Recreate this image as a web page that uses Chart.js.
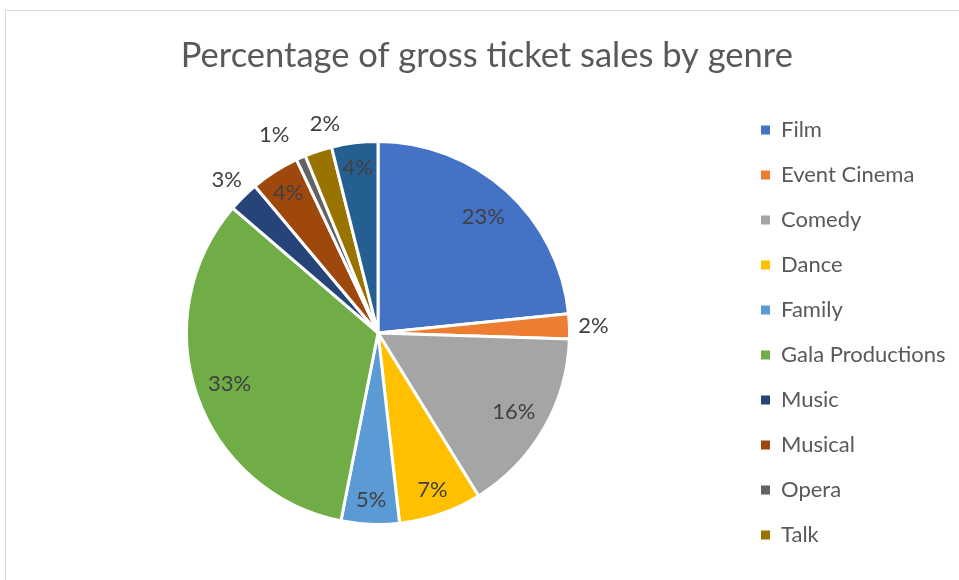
<!DOCTYPE html>
<html>
<head>
<meta charset="utf-8">
<title>Percentage of gross ticket sales by genre</title>
<script src="https://cdn.jsdelivr.net/npm/chart.js@4.4.1/dist/chart.umd.min.js"></script>
<style>
    html, body { margin: 0; padding: 0; background: #fff; }
    body { width: 959px; height: 580px; overflow: hidden; position: relative; }
    #frame { position: absolute; left: 5px; top: 10px; width: 1000px; height: 1000px; border: 1px solid #d9d9d9; }
    #wrap { position: absolute; left: 0; top: 0; width: 959px; height: 580px; }
</style>
</head>
<body>
<div id="frame"></div>
<div id="wrap"><canvas id="chart"></canvas></div>
<script>
// Genres in pie order (clockwise from 12 o'clock)
const genres = ['Film', 'Event Cinema', 'Comedy', 'Dance', 'Family', 'Gala Productions',
                'Music', 'Musical', 'Opera', 'Talk', 'Theatre'];
// Share of gross ticket sales, %
const shares = [23.4, 2.1, 15.7, 7.0, 4.9, 33.2, 2.6, 4.1, 0.8, 2.3, 3.9];
// Office theme palette
const colors = ['#4472C4', '#ED7D31', '#A5A5A5', '#FFC000', '#5B9BD5', '#70AD47',
                '#264478', '#9E480E', '#636363', '#997300', '#255E91'];
// The legend box only had room for the first ten entries
const legendCount = 10;

const FONT = 'Lato';
const LEGEND_SIZE = 22;
const LEGEND_PAD = 23;

// Place the legend so its boxes line up at x≈761, pie centred at x≈378
const mctx = document.createElement('canvas').getContext('2d');
mctx.font = `${LEGEND_SIZE}px ${FONT}`;
const widest = Math.max(...genres.slice(0, legendCount).map(g => mctx.measureText(g).width));
const legendLeft = 738;
// chart.js: padding + box + font/2 + text, plus 10 extra for vertical legends
const legendWidth = LEGEND_PAD + 9 + LEGEND_SIZE / 2 + widest + 10;
const padRight = Math.max(0, 959 - legendLeft - legendWidth);
const padLeft = 2 * 378 - legendLeft;

// Percentage labels: inside for big slices, outside for the thin ones
const sliceLabels = {
    id: 'sliceLabels',
    afterDatasetsDraw(chart) {
        const { ctx } = chart;
        const meta = chart.getDatasetMeta(0);
        ctx.save();
        ctx.font = `22px ${FONT}`;
        ctx.fillStyle = '#404040';
        ctx.textAlign = 'center';
        ctx.textBaseline = 'middle';

        const items = meta.data.map((arc, i) => {
            const v = shares[i];
            const p = arc.getProps(['x', 'y', 'startAngle', 'endAngle', 'outerRadius'], true);
            const outside = v < 3.5;
            return {
                text: Math.round(v) + '%',
                x: p.x, y: p.y,
                angle: (p.startAngle + p.endAngle) / 2,
                r: outside ? p.outerRadius + 24 : p.outerRadius * (v >= 15 ? 0.82 : 0.87),
                outside
            };
        });

        // push neighbouring outside labels apart so they don't collide
        const outs = items.filter(it => it.outside);
        for (let k = 1; k < outs.length; k++) {
            const a = outs[k - 1], b = outs[k];
            const need = (ctx.measureText(a.text).width / 2 + ctx.measureText(b.text).width / 2 + 20) / a.r;
            const gap = b.angle - a.angle;
            if (gap > 0 && gap < need) {
                a.angle -= (need - gap) / 2;
                b.angle += (need - gap) / 2;
                a.r += 8;   // the tiny one sits a bit further out
            }
        }

        items.forEach(it => {
            ctx.fillText(it.text, it.x + Math.cos(it.angle) * it.r, it.y + Math.sin(it.angle) * it.r);
        });
        ctx.restore();
    }
};

new Chart(document.getElementById('chart'), {
    type: 'pie',
    data: {
        labels: genres,
        datasets: [{
            data: shares,
            backgroundColor: colors,
            borderColor: '#ffffff',
            borderWidth: 3,
            radius: 191.5,
            hoverOffset: 0
        }]
    },
    plugins: [sliceLabels],
    options: {
        responsive: true,
        maintainAspectRatio: false,
        animation: false,
        events: [],
        layout: { padding: { top: 0, left: padLeft, right: padRight, bottom: 5 } },
        plugins: {
            tooltip: { enabled: false },
            title: {
                display: true,
                text: 'Percentage of gross ticket sales by genre',
                color: '#595959',
                font: { family: FONT, size: 34.5, weight: 'normal' },
                padding: { top: 35, bottom: 14.5 }
            },
            legend: {
                position: 'right',
                align: 'start',
                title: { display: true, text: '', font: { size: 10 }, padding: { top: 84, bottom: 0 } },
                labels: {
                    color: '#595959',
                    font: { family: FONT, size: LEGEND_SIZE },
                    boxWidth: 9,
                    boxHeight: 9,
                    padding: LEGEND_PAD,
                    filter: item => item.index < legendCount,
                    generateLabels: chart =>
                        Chart.overrides.pie.plugins.legend.labels.generateLabels(chart)
                            .map(l => ({ ...l, lineWidth: 0, strokeStyle: l.fillStyle }))
                }
            }
        }
    }
});
</script>
</body>
</html>
